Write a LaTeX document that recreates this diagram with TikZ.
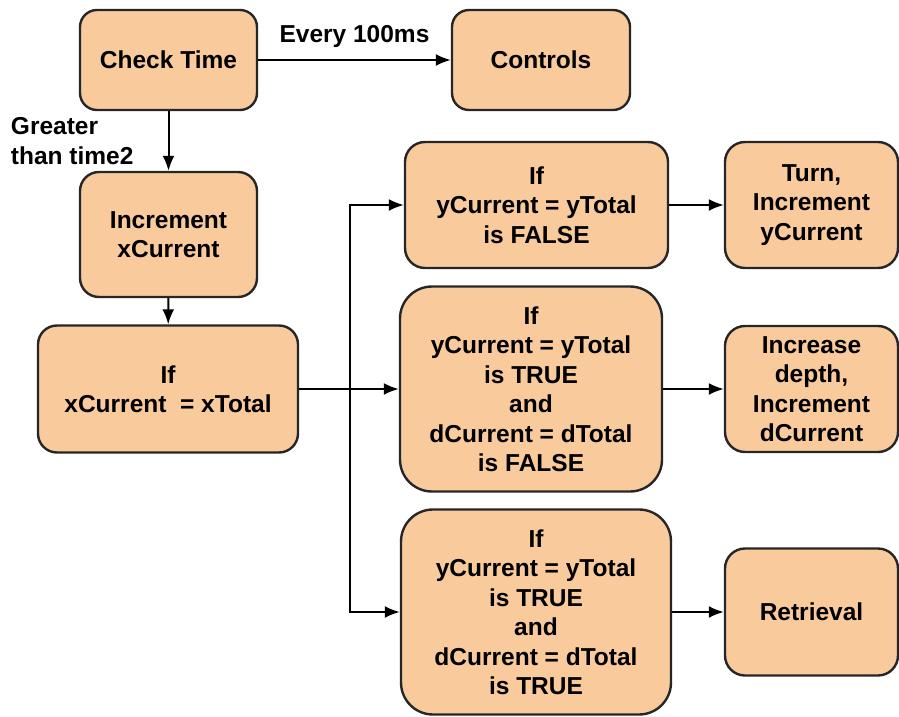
\documentclass[tikz,border=0pt]{standalone}
\usepackage{fontspec}
\setmainfont{Liberation Sans}
\usetikzlibrary{arrows.meta}
\definecolor{peach}{HTML}{F9CB9C}
\tikzset{
  box/.style={draw=black!85,line width=2.4pt,fill=peach,rounded corners=#1,
    align=center,inner sep=0pt,font=\fontsize{24.5}{29.5}\selectfont\bfseries},
  box/.default=17pt,
  lbl/.style={font=\fontsize{24.5}{29.5}\selectfont\bfseries,inner sep=0pt},
}
\begin{document}
\begin{tikzpicture}[>={Latex[length=15pt,width=12pt]},line width=2pt,x=1pt,y=-1pt]
\useasboundingbox (0,0) rectangle (899,717);
\def\w{177}
\def\h{126}
% left column
\node[box,minimum width=\w,minimum height=100] (ct) at (168.5,60) {Check Time};
\node[box,minimum width=178,minimum height=100] (ctl) at (541,60) {Controls};
\node[box=19pt,minimum width=\w,minimum height=125] (inc) at (168.5,234.5) {Increment\\xCurrent};
\node[box=19pt,minimum width=260,minimum height=127] (ifx) at (168,389) {If\\xCurrent~ = xTotal};
% the three checks
\node[box=20pt,minimum width=263,minimum height=\h] (ify1) at (536.5,205) {If\\yCurrent = yTotal\\is FALSE};
\node[box=32pt,minimum width=262,minimum height=205] (ify2) at (531,389) {If\\yCurrent = yTotal\\is TRUE\\and\\dCurrent = dTotal\\is FALSE};
\node[box=32pt,minimum width=270,minimum height=205] (ify3) at (536,612) {If\\yCurrent = yTotal\\is TRUE\\and\\dCurrent = dTotal\\is TRUE};
% actions
\node[box=20pt,minimum width=173,minimum height=\h] (turn) at (811.5,205) {Turn,\\Increment\\yCurrent};
\node[box=20pt,minimum width=173,minimum height=\h] (depth) at (811.5,389) {Increase\\depth,\\Increment\\dCurrent};
\node[box=20pt,minimum width=173,minimum height=127] (ret) at (811.5,612) {Retrieval};
\coordinate (split) at (350,389);
\draw[->] (ct) -- node[lbl,above=11pt] {Every 100ms} (ctl);
\draw[->] (ct) -- node[lbl,left=34pt,align=left] {Greater\\than time2} (inc);
\draw[->] (inc) -- (ifx);
\draw[->] (ifx) -- (ify2);
\draw[->] (split) |- (ify1.west);
\draw[->] (split) |- (ify3.west);
\draw[->] (ify1) -- (turn);
\draw[->] (ify2) -- (depth);
\draw[->] (ify3) -- (ret);
\end{tikzpicture}
\end{document}
